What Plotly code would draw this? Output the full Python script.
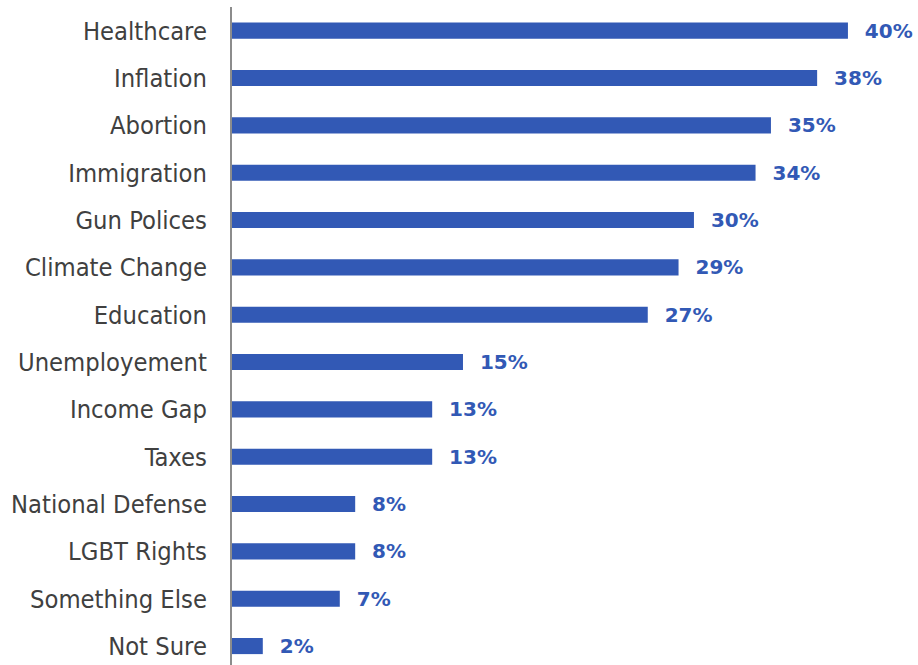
import plotly.graph_objects as go

categories = ["Healthcare", "Inflation", "Abortion", "Immigration", "Gun Polices",
              "Climate Change", "Education", "Unemployement", "Income Gap", "Taxes",
              "National Defense", "LGBT Rights", "Something Else", "Not Sure"]
values = [40, 38, 35, 34, 30, 29, 27, 15, 13, 13, 8, 8, 7, 2]
labels = [f"{v}%" for v in values]

BLUE = "#3259b5"

fig = go.Figure()
fig.add_trace(go.Bar(
    x=values, y=categories, orientation="h",
    marker=dict(color=BLUE, line=dict(width=0)),
    text=["\u00a0\u00a0" + t for t in labels],
    textposition="outside", cliponaxis=False, constraintext="none",
    textfont=dict(family="DejaVu Sans", size=20, color=BLUE, weight="bold"),
    hoverinfo="skip",
))

fig.update_layout(
    width=918, height=665,
    margin=dict(l=232, r=0, t=7, b=0, autoexpand=False),
    paper_bgcolor="white", plot_bgcolor="white",
    bargap=0.66, showlegend=False,
    font=dict(family="DejaVu Sans Condensed"),
)
fig.update_xaxes(range=[0, 44.55], visible=False, fixedrange=True, automargin=False)
fig.update_yaxes(
    type="category", categoryorder="array", categoryarray=categories,
    range=[13.4, -0.5], automargin=False,
    showline=True, linecolor="#8c8c8c", linewidth=2,
    showgrid=False, zeroline=False, ticks="", ticklabelstandoff=18,
    tickfont=dict(family="DejaVu Sans Condensed", size=25.3, color="#404040"),
)

fig.write_html(
    "out.html",
    config={"displayModeBar": False},
    post_script="document.body.style.margin='0';document.body.style.overflow='hidden';",
)
